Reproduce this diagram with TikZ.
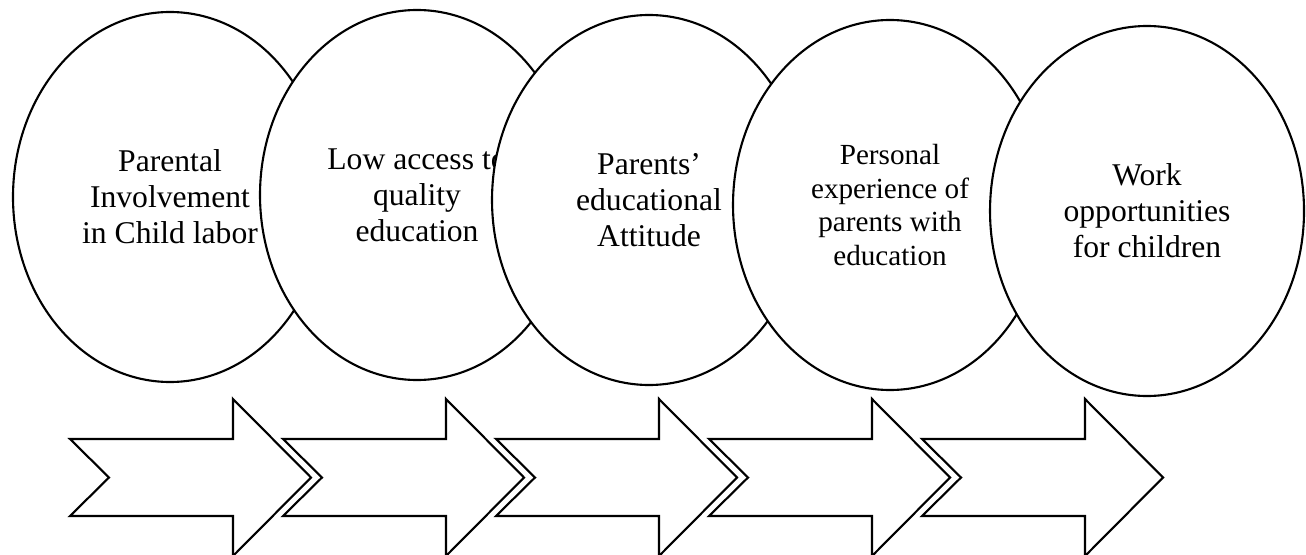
\documentclass[tikz,border=0pt]{standalone}
\usepackage{fontspec}
\setmainfont{Liberation Serif}
\usetikzlibrary{shapes.geometric}

\begin{document}
\begin{tikzpicture}[
    bubble/.style={ellipse, draw, fill=white, line width=0.6pt,
      minimum width=3.14cm, minimum height=3.70cm, inner sep=0pt,
      align=center, font=\fontsize{9}{10.2}\selectfont},
    blockarrow/.style={draw, fill=white, line width=0.6pt, line join=miter}]
         \useasboundingbox (0,0) rectangle (13.06,5.54);
         % Ellipses, each one laid over the one before
         \node[bubble] (involve) at (1.70,3.57) {Parental\\Involvement\\in Child labor};
         \node[bubble] (access)  at (4.17,3.59) {Low access to\\quality\\education};
         \node[bubble] (attit)   at (6.49,3.54) {Parents’\\educational\\Attitude};
         \node[bubble, font=\fontsize{8.3}{9.6}\selectfont]
                       (exper)   at (8.90,3.49) {Personal\\experience of\\parents with\\education};
         \node[bubble] (work)    at (11.47,3.43) {Work\\opportunities\\for children};
         % Arrows along the bottom
         \draw[blockarrow] (0.70,1.15) -- ++(1.63,0) -- ++(0,0.40) -- ++(0.78,-0.785) -- ++(-0.78,-0.785)
               -- ++(0,0.40) -- ++(-1.63,0) -- ++(0.39,0.385) -- cycle;
         \draw[blockarrow] (2.83,1.15) -- ++(1.63,0) -- ++(0,0.40) -- ++(0.78,-0.785) -- ++(-0.78,-0.785)
               -- ++(0,0.40) -- ++(-1.63,0) -- ++(0.39,0.385) -- cycle;
         \draw[blockarrow] (4.96,1.15) -- ++(1.63,0) -- ++(0,0.40) -- ++(0.78,-0.785) -- ++(-0.78,-0.785)
               -- ++(0,0.40) -- ++(-1.63,0) -- ++(0.39,0.385) -- cycle;
         \draw[blockarrow] (7.09,1.15) -- ++(1.63,0) -- ++(0,0.40) -- ++(0.78,-0.785) -- ++(-0.78,-0.785)
               -- ++(0,0.40) -- ++(-1.63,0) -- ++(0.39,0.385) -- cycle;
         \draw[blockarrow] (9.22,1.15) -- ++(1.63,0) -- ++(0,0.40) -- ++(0.78,-0.785) -- ++(-0.78,-0.785)
               -- ++(0,0.40) -- ++(-1.63,0) -- ++(0.39,0.385) -- cycle;
       \end{tikzpicture}
\end{document}
